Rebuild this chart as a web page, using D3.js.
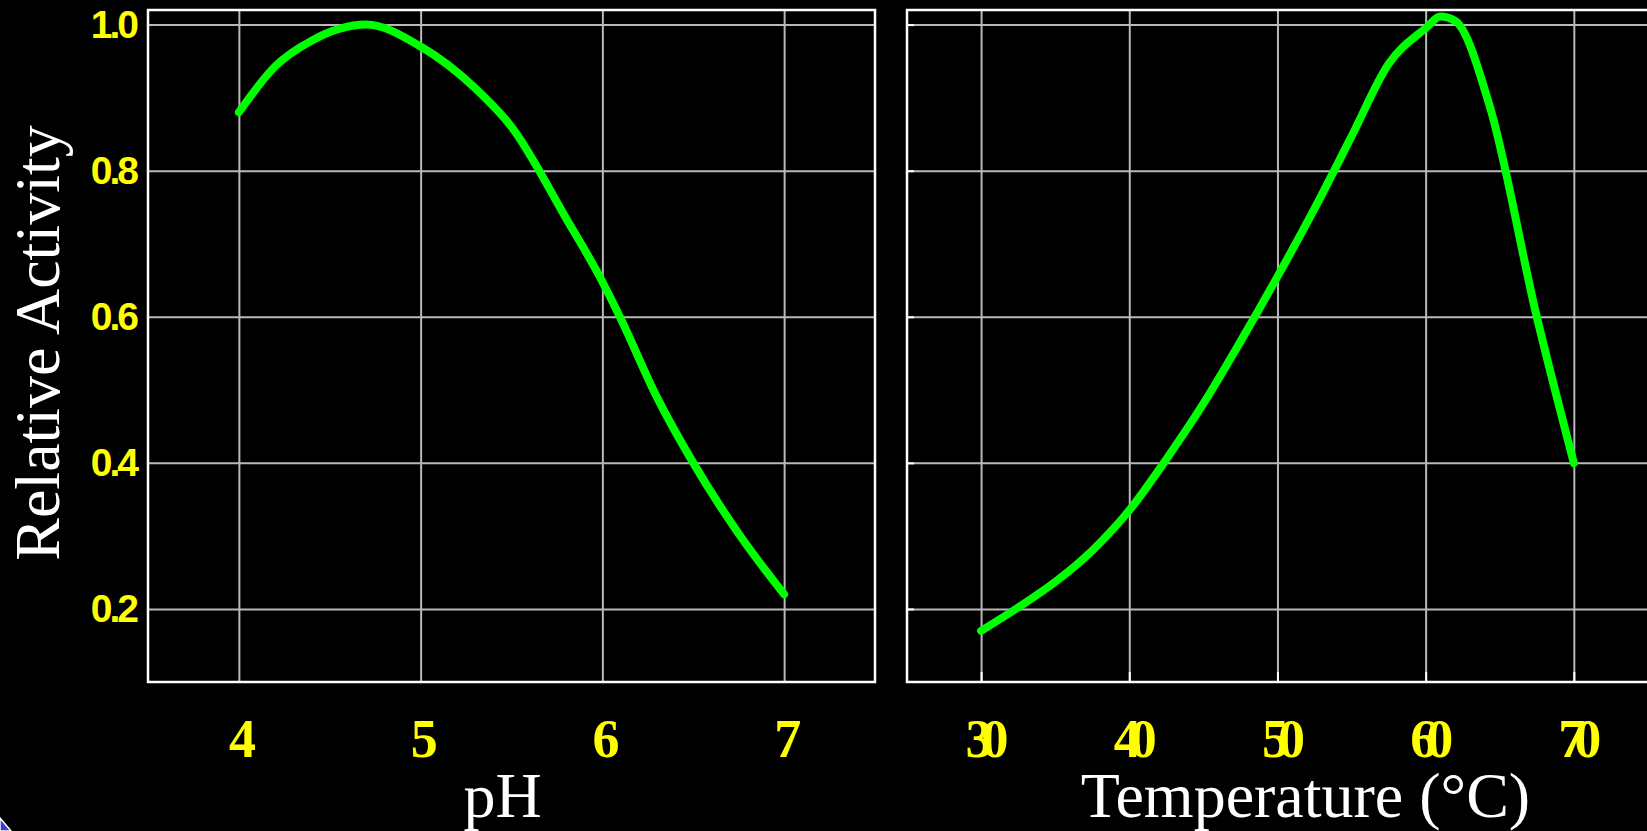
<!DOCTYPE html>
<html lang="en">
<head>
  <meta charset="UTF-8">
  <title>Relative Activity vs pH and Temperature</title>
  <script src="https://d3js.org/d3.v7.min.js"></script>
  <style>
    body { margin: 0; background: #000; }
    svg { display: block; background: #000; }
    .grid line { stroke: #b9b9b9; stroke-width: 2; }
    .grid path { display: none; }
    .frame { fill: none; stroke: #fff; stroke-width: 2.5; }
    .marks line { stroke: #fff; stroke-width: 2; }
    .marks path { display: none; }
    .ylab text {
      fill: #ffff00; font-family: "Liberation Sans", Arial, sans-serif;
      font-weight: bold; font-size: 39px; letter-spacing: -3px;
    }
    .xlab text {
      fill: #ffff00; font-family: "Liberation Serif", "Times New Roman", serif;
      font-weight: bold; font-size: 54px;
    }
    .xlab path, .ylab path { display: none; }
    .title {
      fill: #fff; font-family: "Liberation Serif", "Times New Roman", serif;
      font-size: 64px;
    }
    .curve { fill: none; stroke: #00ff00; stroke-width: 8; stroke-linecap: round; stroke-linejoin: round; }
  </style>
</head>
<body>
  <svg width="1647" height="831"></svg>
  <script>
    // values
    const phValues   = [4.0, 4.2, 4.4, 4.7, 5.0, 5.3, 5.5, 5.8, 6.0, 6.1, 6.3, 6.5, 6.75, 7.0];
    const phActivity = [0.88, 0.943, 0.978, 1.0, 0.97, 0.913, 0.86, 0.735, 0.648, 0.598, 0.49, 0.40, 0.303, 0.22];

    const tempValues   = [30, 32.5, 35, 37.5, 40, 42.5, 45, 47.5, 50, 52.5, 55, 57.5, 60, 61, 62, 64.3, 67.5, 70];
    const tempActivity = [0.17, 0.202, 0.237, 0.28, 0.335, 0.405, 0.481, 0.566, 0.655, 0.748, 0.847, 0.946, 0.995, 1.011, 1.005, 0.89, 0.60, 0.40];

    const yTicks = [0.2, 0.4, 0.6, 0.8, 1.0];
    const phTicks = [4, 5, 6, 7];
    const tempTicks = [30, 40, 50, 60, 70];

    const svg = d3.select("svg");
    const plotTop = 10, plotBottom = 682;
    const h = plotBottom - plotTop;

    const y = d3.scaleLinear().domain([0.1, 1.02]).range([h, 0]);

    function panel(opts) {
      const w = opts.right - opts.left;
      const x = d3.scaleLinear().domain(opts.domain).range([0, w]);
      const g = svg.append("g").attr("transform", `translate(${opts.left},${plotTop})`);

      // grid
      g.append("g").attr("class", "grid")
        .call(d3.axisLeft(y).tickValues(yTicks).tickSize(-w).tickFormat(""));
      g.append("g").attr("class", "grid")
        .attr("transform", `translate(0,${h})`)
        .call(d3.axisBottom(x).tickValues(opts.ticks).tickSize(-h).tickFormat(""));

      if (opts.innerTicks) {
        g.append("g").attr("class", "marks")
          .call(d3.axisLeft(y).tickValues(yTicks).tickSize(-7).tickFormat(""));
        g.append("g").attr("class", "marks")
          .attr("transform", `translate(0,${h})`)
          .call(d3.axisBottom(x).tickValues(opts.ticks).tickSize(-10).tickFormat(""));
      }

      g.append("rect").attr("class", "frame")
        .attr("x", 0).attr("y", 0).attr("width", w).attr("height", h);

      if (opts.yLabels) {
        g.append("g").attr("class", "ylab")
          .call(d3.axisLeft(y).tickValues(yTicks).tickSize(0).tickPadding(12)
            .tickFormat(d3.format(".1f")));
      }

      const xl = g.append("g").attr("class", "xlab")
        .attr("transform", `translate(0,${h})`)
        .call(d3.axisBottom(x).tickValues(opts.ticks).tickSize(0).tickPadding(37)
          .tickFormat(d3.format("d")));
      xl.selectAll("text")
        .style("letter-spacing", opts.tickSpacing + "px")
        .attr("dx", opts.tickDx);

      const data = opts.xs.map((v, i) => ({x: v, y: opts.ys[i]}));
      g.append("path").datum(data)
        .attr("class", "curve")
        .attr("d", d3.line().x(d => x(d.x)).y(d => y(d.y)).curve(d3.curveMonotoneX));

      g.append("text").attr("class", "title")
        .attr("x", w / 2 - 9).attr("y", 817 - plotTop)
        .attr("text-anchor", "middle")
        .text(opts.title);
    }

    panel({left: 148, right: 875, domain: [3.5, 7.5], ticks: phTicks,
           xs: phValues, ys: phActivity, yLabels: true, innerTicks: false,
           tickSpacing: 0, tickDx: 3, title: "pH"});

    panel({left: 907, right: 1722, domain: [25, 80], ticks: tempTicks,
           xs: tempValues, ys: tempActivity, yLabels: false, innerTicks: true,
           tickSpacing: -11, tickDx: 0, title: "Temperature (\u00B0C)"});

    svg.append("text").attr("class", "title")
      .attr("transform", `translate(59,${plotTop + h / 2 - 3}) rotate(-90)`)
      .attr("text-anchor", "middle")
      .text("Relative Activity");

    // bit of slide decoration in the corner
    svg.append("path")
      .attr("d", "M0,818 L11,831 L0,831 Z")
      .attr("fill", "#3c3cd2").attr("stroke", "#fff").attr("stroke-width", 1.5);
  </script>
</body>
</html>
